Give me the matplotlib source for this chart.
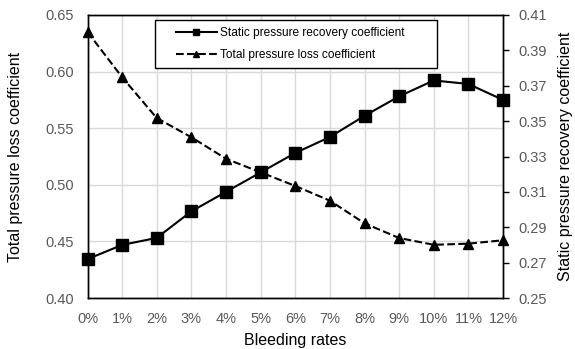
import matplotlib
matplotlib.use('Agg')
import matplotlib.pyplot as plt
from matplotlib.patches import Rectangle

# bleeding rates (%)
rates = [0, 1, 2, 3, 4, 5, 6, 7, 8, 9, 10, 11, 12]
rate_labels = ['%d%%' % r for r in rates]

# static pressure recovery coefficient (right axis)
static_rec = [0.272, 0.280, 0.284, 0.299, 0.310, 0.321, 0.332, 0.341,
              0.353, 0.364, 0.373, 0.371, 0.362]
# total pressure loss coefficient (left axis)
total_loss = [0.635, 0.595, 0.559, 0.542, 0.523, 0.511, 0.499, 0.486,
              0.466, 0.453, 0.447, 0.448, 0.451]

left_ticks = [0.40, 0.45, 0.50, 0.55, 0.60, 0.65]
right_ticks = [0.25, 0.27, 0.29, 0.31, 0.33, 0.35, 0.37, 0.39, 0.41]

plt.rcParams['font.family'] = ['Liberation Sans', 'DejaVu Sans']

fig = plt.figure(figsize=(5.75, 3.49), dpi=100)
ax = fig.add_axes([87.5 / 575, 1 - 298 / 349, 415.5 / 575, 283 / 349])
ax2 = ax.twinx()

l2, = ax.plot(rates, total_loss, '--', color='black', lw=1.5,
              marker='^', markersize=7, label='Total pressure loss coefficient',
              clip_on=False)
l1, = ax2.plot(rates, static_rec, '-', color='black', lw=1.5,
               marker='s', markersize=8, label='Static pressure recovery coefficient',
               clip_on=False)

ax.set_xlim(0, 12)
ax.set_ylim(0.40, 0.65)
ax2.set_ylim(0.25, 0.41)
ax.set_xticks(rates)
ax.set_xticklabels(rate_labels)
ax.set_yticks(left_ticks)
ax.set_yticklabels(['%.2f' % v for v in left_ticks])
ax2.set_yticks(right_ticks)
ax2.set_yticklabels(['%.2f' % v for v in right_ticks])

ax.grid(True, color='#d9d9d9', lw=1)
ax.set_axisbelow(True)
ax.tick_params(axis='both', length=0, labelsize=10.5, colors='#595959', pad=10)
ax2.tick_params(axis='y', length=4, width=1, direction='out', labelsize=10.5,
                labelcolor='#595959', color='black', pad=7)

for a in (ax, ax2):
    for s in a.spines.values():
        s.set_color('black')
        s.set_linewidth(1)

ax.set_xlabel('Bleeding rates', fontsize=11.5, labelpad=5)
ax.set_ylabel('Total pressure loss coefficient', fontsize=11.5, labelpad=16)
ax2.set_ylabel('Static pressure recovery coefficient', fontsize=11.5, labelpad=8)

# legend frame drawn separately so the entries can sit inside with extra margin
ax2.add_patch(Rectangle((0.1625, 0.813), 0.679, 0.169, transform=ax2.transAxes,
                        facecolor='white', edgecolor='black', lw=1, zorder=4))
leg = ax2.legend(handles=[l1, l2], loc='center left',
                 bbox_to_anchor=(0.213, 0.8975), frameon=False,
                 fontsize=8.6, markerscale=0.6, handlelength=3.4,
                 handletextpad=0.3, borderaxespad=0, borderpad=0,
                 labelspacing=0.85)
leg.set_zorder(5)

fig.savefig('out.png', dpi=100)
